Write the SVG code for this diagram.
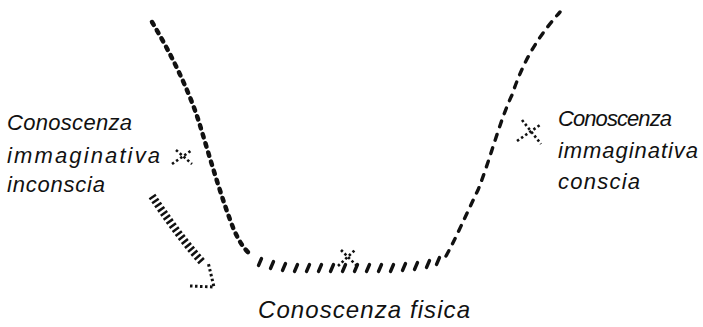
<svg xmlns="http://www.w3.org/2000/svg" width="703" height="327" viewBox="0 0 703 327">
<style>
.lbl{font-family:"Liberation Sans","DejaVu Sans",sans-serif;font-style:italic;font-size:22px;fill:#111}
.big{font-size:24px}
.curve{fill:none;stroke:#111}
.cross{fill:none;stroke:#111;stroke-width:2.6;stroke-dasharray:2.5 2.5}
</style>
<rect width="703" height="327" fill="#fff"/>
<g id="connectors">
<path class="curve" d="M152,22 C170,52 188,88 199,122 C210,158 222,200 234,230 C239,241 244,249 250,254" stroke-width="4.5" stroke-linecap="round" stroke-dasharray="3.5 6"/>
<path class="curve" stroke-width="3.4" stroke-linecap="round" d="M258.5,265.5 L261.5,258.5 M270.5,268.5 L273.5,261.5 M282.5,270.5 L285.5,263.5 M294.5,271.5 L297.5,264.5 M306.5,271.5 L309.5,264.5 M318.5,271.5 L321.5,264.5 M330.5,271.5 L333.5,264.5 M342.5,271.5 L345.5,264.5 M354.5,271.5 L357.5,264.5 M366.5,271.5 L369.5,264.5 M378.5,271.5 L381.5,264.5 M390.5,271.5 L393.5,264.5 M402.5,270.5 L405.5,263.5 M414.5,269.5 L417.5,262.5 M426.5,267.5 L429.5,260.5 M436.5,264.5 L439.5,257.5"/>
<path class="curve" d="M446,256 C455,240 466,215 478,190 C490,160 500,120 512,95 C522,65 535,40 560,12" stroke-width="3.4" stroke-linecap="round" stroke-dasharray="6 8"/>
<path class="curve" d="M152,196 C165,215 182,240 203,263" stroke-width="8" stroke-dasharray="2.5 2.5"/>
<path class="curve" d="M190,286 L214,287 L208,262" stroke-width="3" stroke-dasharray="2.5 2.5"/>
</g>
<g id="node-inconscia">
<text class="lbl" x="7" y="130" textLength="125" lengthAdjust="spacing">Conoscenza</text>
<text class="lbl" x="7" y="163" textLength="153" lengthAdjust="spacing">immaginativa</text>
<text class="lbl" x="7" y="192" textLength="98" lengthAdjust="spacing">inconscia</text>
<path class="cross" d="M172,164 L192,150 M176,150 L192,164"/>
</g>
<g id="node-fisica">
<text class="lbl big" x="258" y="318" textLength="212" lengthAdjust="spacing">Conoscenza fisica</text>
<path class="cross" d="M338,266 L355,250 M341,250 L357,266"/>
</g>
<g id="node-conscia">
<text class="lbl" x="558" y="126" textLength="114" lengthAdjust="spacing">Conoscenza</text>
<text class="lbl" x="558" y="158" textLength="140" lengthAdjust="spacing">immaginativa</text>
<text class="lbl" x="558" y="189" textLength="82" lengthAdjust="spacing">conscia</text>
<path class="cross" d="M517,141 L540,125 M522,120 L541,144"/>
</g>
</svg>
